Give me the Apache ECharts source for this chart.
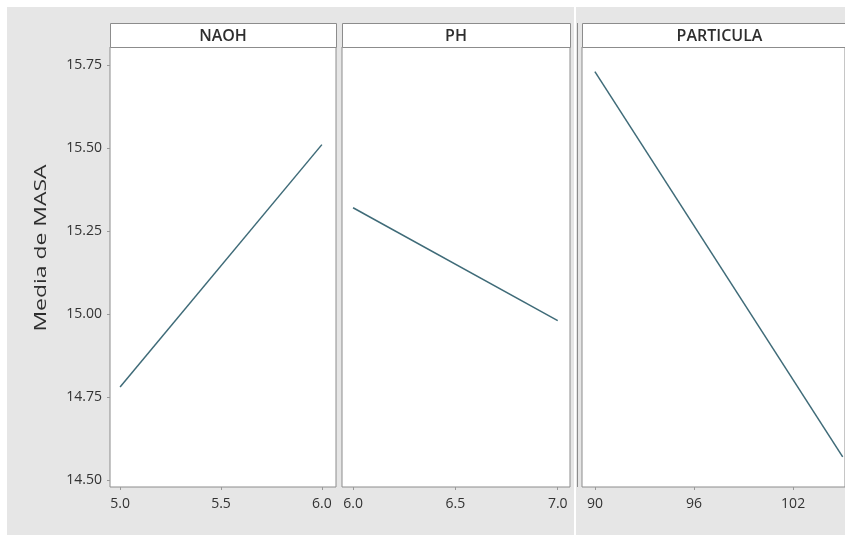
<!DOCTYPE html>
<html>
<head>
<meta charset="utf-8">
<script src="https://cdn.jsdelivr.net/npm/echarts@6/dist/echarts.min.js"></script>
<style>
  html, body { margin: 0; padding: 0; background: #ffffff; }
  #main { width: 845px; height: 537px; }
</style>
</head>
<body>
<div id="main"></div>
<script>
// Main effects plot: mean of MASA for each factor level
const factorNames = ['NAOH', 'PH', 'PARTICULA'];
const naohLevels = [5.0, 6.0];
const naohMeans = [14.78, 15.51];
const phLevels = [6.0, 7.0];
const phMeans = [15.32, 14.98];
const particulaLevels = [90, 105];
const particulaMeans = [15.73, 14.57];

const yTicks = [14.50, 14.75, 15.00, 15.25, 15.50, 15.75];
const naohTicks = [5.0, 5.5, 6.0];
const phTicks = [6.0, 6.5, 7.0];
const particulaTicks = [90, 96, 102];
const yTitle = 'Media de MASA';

// Panel geometry (pixels); the last panel runs off the right edge
const plotTop = 47, plotHeight = 440, stripHeight = 24;
const panels = [
  { left: 110, width: 226, stripWidth: 226, xMin: 4.95, xMax: 6.07, ticks: naohTicks, digits: 1, levels: naohLevels, means: naohMeans },
  { left: 342, width: 228, stripWidth: 228, xMin: 5.946, xMax: 7.06, ticks: phTicks, digits: 1, levels: phLevels, means: phMeans },
  { left: 582, width: 264, stripWidth: 275, xMin: 89.22, xMax: 105.14, ticks: particulaTicks, digits: 0, levels: particulaLevels, means: particulaMeans }
];
const yMin = 14.479, yMax = 15.804;

const lineColor = '#3f6b78';
const borderColor = '#8c8c8c';
const textColor = '#333333';
const font = 'Open Sans';

const grids = panels.map(p => ({
  left: p.left, top: plotTop, width: p.width, height: plotHeight,
  show: true, backgroundColor: '#ffffff', borderColor: borderColor, borderWidth: 1
}));

const xAxes = panels.map((p, i) => ({
  type: 'value', gridIndex: i, min: p.xMin, max: p.xMax,
  axisLine: { show: false },
  splitLine: { show: false },
  axisTick: { show: true, length: 3, customValues: p.ticks, lineStyle: { color: '#999999' } },
  axisLabel: {
    customValues: p.ticks, margin: 10, color: textColor, fontFamily: font, fontSize: 14, fontWeight: 500,
    formatter: v => Number(v).toFixed(p.digits)
  }
}));

const yAxes = panels.map((p, i) => ({
  type: 'value', gridIndex: i, min: yMin, max: yMax,
  axisLine: { show: false },
  splitLine: { show: false },
  axisTick: { show: i === 0, length: 3, customValues: yTicks, lineStyle: { color: '#999999' } },
  axisLabel: {
    show: i === 0, customValues: yTicks, margin: 8, color: textColor, fontFamily: font, fontSize: 14, fontWeight: 500,
    formatter: v => Number(v).toFixed(2)
  }
}));

const series = panels.map((p, i) => ({
  type: 'line', xAxisIndex: i, yAxisIndex: i,
  data: p.levels.map((x, k) => [x, p.means[k]]),
  showSymbol: false, silent: true,
  lineStyle: { color: lineColor, width: 1.5 }
}));

// Strip headers above each panel, plus the page frame
const graphics = [
  { type: 'rect', shape: { x: 0, y: 0, width: 845, height: 7 }, style: { fill: '#ffffff' } },
  { type: 'rect', shape: { x: 0, y: 0, width: 7, height: 537 }, style: { fill: '#ffffff' } },
  { type: 'rect', shape: { x: 0, y: 535, width: 845, height: 2 }, style: { fill: '#ffffff' } },
  { type: 'rect', shape: { x: 574, y: 0, width: 2, height: 537 }, style: { fill: '#ffffff' } },
  { type: 'line', shape: { x1: 577.5, y1: plotTop - stripHeight, x2: 577.5, y2: plotTop + plotHeight }, style: { stroke: borderColor, lineWidth: 1 } }
];
panels.forEach((p, i) => {
  graphics.push({
    type: 'rect',
    shape: { x: p.left + 0.5, y: plotTop - stripHeight + 0.5, width: p.stripWidth, height: stripHeight },
    style: { fill: '#ffffff', stroke: borderColor, lineWidth: 1 }
  });
  graphics.push({
    type: 'text', x: p.left + p.stripWidth / 2, y: plotTop - stripHeight / 2 + 1,
    style: {
      text: factorNames[i], fill: '#2e2e2e', font: '600 16px "' + font + '"',
      textAlign: 'center', textVerticalAlign: 'middle'
    }
  });
});
graphics.push({
  type: 'text', x: 41, y: 248, rotation: Math.PI / 2, scaleX: 1.35,
  style: {
    text: yTitle, fill: '#2e2e2e', font: '500 17px "' + font + '"',
    textAlign: 'center', textVerticalAlign: 'middle'
  }
});

const chart = echarts.init(document.getElementById('main'), null, { renderer: 'canvas' });
chart.setOption({
  backgroundColor: '#e6e6e6',
  animation: false,
  grid: grids,
  xAxis: xAxes,
  yAxis: yAxes,
  series: series,
  graphic: { elements: graphics }
});
</script>
</body>
</html>
